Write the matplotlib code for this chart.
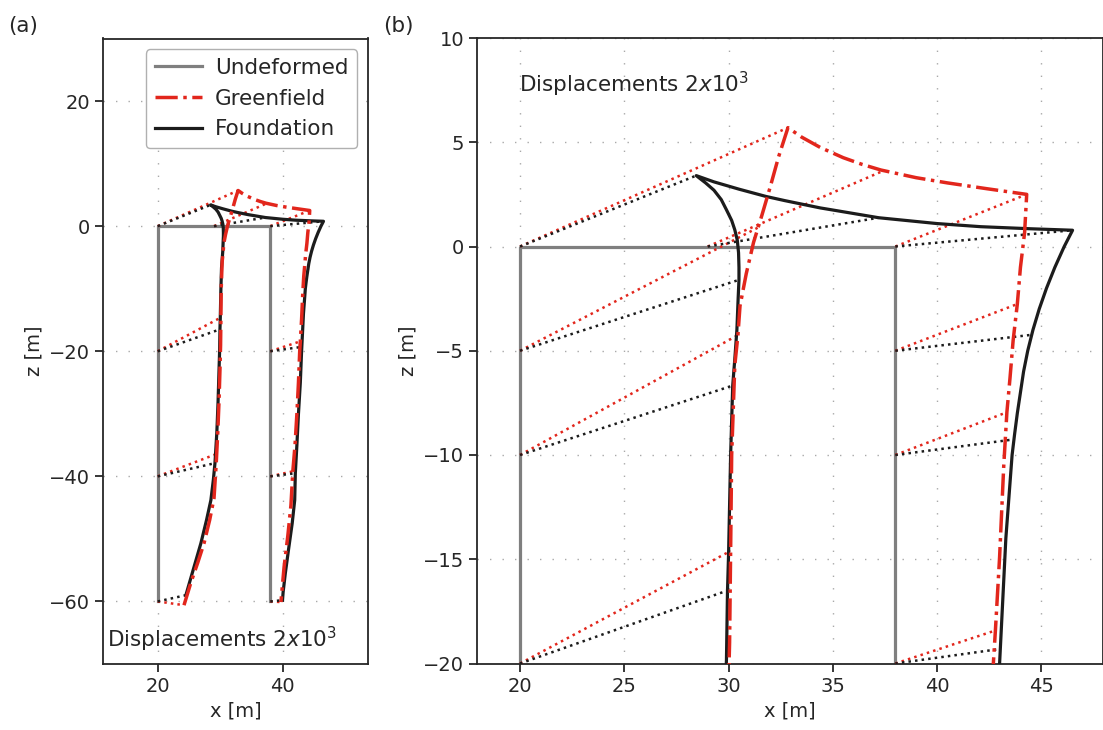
import matplotlib
matplotlib.use("Agg")
import matplotlib.pyplot as plt
from matplotlib.lines import Line2D

# ---------------- data (scaled displacements, 2x10^3) ----------------
undeformed_x = [20, 20, 38, 38]
undeformed_z = [-60, 0, 0, -60]

greenfield_x = [24.2, 25.3, 26.4, 27.4, 28.3, 29.0, 29.35, 29.6, 29.8, 29.95, 30.05,
                30.1, 30.15, 30.3, 30.45, 30.55, 30.85, 31.2, 31.6, 32.0, 32.4, 32.85,
                33.5, 34.4, 35.5, 36.4, 37.3, 39.0, 40.5, 42.4, 44.3,
                44.2, 44.0, 43.85, 43.65, 43.5, 43.35, 43.2, 43.0, 42.8, 42.7, 42.5,
                42.25, 41.95, 41.6, 41.3, 40.8, 40.2, 39.7]
greenfield_z = [-60.6, -57.0, -53.8, -50.7, -47.0, -43.5, -38.0, -33.0, -28.0, -23.0, -19.0,
                -14.6, -10.0, -5.7, -4.25, -2.85, -1.3, 0.2, 1.5, 2.86, 4.3, 5.7,
                5.25, 4.75, 4.26, 3.94, 3.67, 3.3, 3.05, 2.77, 2.5,
                0.67, -1.0, -2.76, -4.5, -6.3, -7.95, -10.5, -14.9, -18.4, -20.0, -25.0,
                -30.0, -35.0, -39.2, -44.6, -49.5, -54.5, -60.1]

foundation_x = [24.5, 25.8, 26.9, 27.8, 28.5, 28.9, 29.15, 29.45, 29.65, 29.8, 29.9,
                29.95, 30.0, 30.1, 30.2, 30.3, 30.4, 30.46, 30.5, 30.5, 30.48, 30.42,
                30.3, 30.15, 29.9, 29.65, 29.3, 28.9, 28.45,
                29.3, 30.5, 31.8, 32.7, 34.4, 35.0, 37.2, 40.0, 42.1, 44.5, 46.5,
                46.1, 45.65, 45.25, 44.9, 44.6, 44.35, 44.15, 44.0, 43.85, 43.72, 43.6,
                43.45, 43.3, 43.15, 43.0,
                42.8, 42.5, 42.25, 42.0, 41.9, 41.5, 40.9, 40.4, 40.05, 39.95]
foundation_z = [-59.0, -54.5, -50.7, -47.0, -43.8, -40.5, -37.9, -33.0, -28.0, -23.0, -19.8,
                -16.5, -14.8, -10.0, -6.67, -5.4, -4.0, -2.5, -1.6, -1.0, -0.3, 0.3,
                0.8, 1.25, 1.76, 2.25, 2.7, 3.05, 3.4,
                3.1, 2.75, 2.4, 2.2, 1.85, 1.75, 1.38, 1.1, 0.95, 0.85, 0.78,
                0.0, -1.0, -2.0, -3.0, -4.0, -5.0, -6.0, -7.0, -8.0, -9.0, -10.0,
                -12.0, -14.0, -17.0, -20.0,
                -25.0, -30.0, -35.0, -39.5, -43.8, -47.5, -51.8, -55.5, -58.5, -59.8]

# displacement vectors: undeformed node -> deformed node
node_x = [20, 20, 20, 20, 20, 20, 29, 38, 38, 38, 38, 38, 38]
node_z = [0, -5, -10, -20, -40, -60, 0, 0, -5, -10, -20, -40, -60]
gf_end_x = [32.85, 31.4, 30.45, 30.1, 29.2, 24.2, 37.4, 44.3, 43.85, 43.35, 42.85, 41.6, 39.7]
gf_end_z = [5.7, 0.9, -4.25, -14.6, -36.5, -60.6, 3.62, 2.5, -2.76, -7.95, -18.4, -39.2, -60.1]
fd_end_x = [28.45, 30.5, 30.2, 29.95, 29.1, 24.5, 37.2, 46.5, 44.5, 43.7, 43.05, 42.0, 39.95]
fd_end_z = [3.4, -1.6, -6.67, -16.5, -37.9, -59.0, 1.38, 0.78, -4.24, -9.25, -19.3, -39.5, -59.8]
# nodes whose vectors are shown in each panel
nodes_a = [0, 3, 4, 5, 6, 7, 10, 11, 12]
nodes_b = list(range(13))

label_text = "Displacements $2x10^3$"

# ---------------- style ----------------
DARK = "#262626"
GREY = "#7f7f7f"
RED = "#e2261c"
BLACK = "#1c1c1c"
plt.rcParams.update({
    "font.family": ["DejaVu Sans"],
    "font.size": 14,
    "axes.edgecolor": DARK,
    "axes.linewidth": 1.3,
    "xtick.color": DARK,
    "ytick.color": DARK,
    "text.color": DARK,
    "axes.labelcolor": DARK,
    "xtick.major.size": 6,
    "ytick.major.size": 6,
    "xtick.major.width": 1.3,
    "ytick.major.width": 1.3,
    "xtick.labelsize": 14,
    "ytick.labelsize": 14,
})

fig = plt.figure(figsize=(11.03, 7.30), dpi=100)
ax_a = fig.add_axes([103.3 / 1103, 66 / 730, 264.4 / 1103, 625.5 / 730])
ax_b = fig.add_axes([477.3 / 1103, 66.5 / 730, 625.5 / 1103, 625.5 / 730])


def draw(ax, nodes):
    ax.grid(True, color="#a9a9a9", lw=1.0, linestyle=(0, (1, 8)))
    ax.set_axisbelow(True)
    ax.plot(undeformed_x, undeformed_z, color=GREY, lw=2.3, zorder=2)
    for i in nodes:
        ax.plot([node_x[i], gf_end_x[i]], [node_z[i], gf_end_z[i]],
                color=RED, lw=1.8, ls=":", zorder=3)
        ax.plot([node_x[i], fd_end_x[i]], [node_z[i], fd_end_z[i]],
                color=BLACK, lw=1.8, ls=":", zorder=3)
    ax.plot(foundation_x, foundation_z, color=BLACK, lw=2.3, zorder=4)
    ax.plot(greenfield_x, greenfield_z, color=RED, lw=2.5, ls="-.", zorder=5)
    ax.set_xlabel("x [m]")
    ax.set_ylabel("z [m]")
    ax.tick_params(direction="out")


draw(ax_a, nodes_a)
ax_a.set_xlim(11.3, 53.57)
ax_a.set_ylim(-70, 30)
ax_a.set_xticks([20, 40])
ax_a.set_yticks([20, 0, -20, -40, -60])
ax_a.text(0.015, 0.027, label_text, transform=ax_a.transAxes, fontsize=15.5,
          ha="left", va="baseline")
handles = [Line2D([], [], color=GREY, lw=2.3),
           Line2D([], [], color=RED, lw=2.5, ls="-."),
           Line2D([], [], color=BLACK, lw=2.3)]
ax_a.legend(handles, ["Undeformed", "Greenfield", "Foundation"], loc="upper right",
            fontsize=15.5, handlelength=2.2, handletextpad=0.6, fancybox=True,
            framealpha=1.0, edgecolor="#b0b0b0")

draw(ax_b, nodes_b)
ax_b.set_xlim(17.95, 47.95)
ax_b.set_ylim(-20, 10)
ax_b.set_xticks([20, 25, 30, 35, 40, 45])
ax_b.set_yticks([10, 5, 0, -5, -10, -15, -20])
ax_b.text(0.067, 0.914, label_text, transform=ax_b.transAxes, fontsize=15.5,
          ha="left", va="baseline")

fig.text(8 / 1103, 1 - 26 / 730, "(a)", fontsize=15.5, ha="left", va="center")
fig.text(383 / 1103, 1 - 26 / 730, "(b)", fontsize=15.5, ha="left", va="center")

fig.savefig("out.png", dpi=100)
